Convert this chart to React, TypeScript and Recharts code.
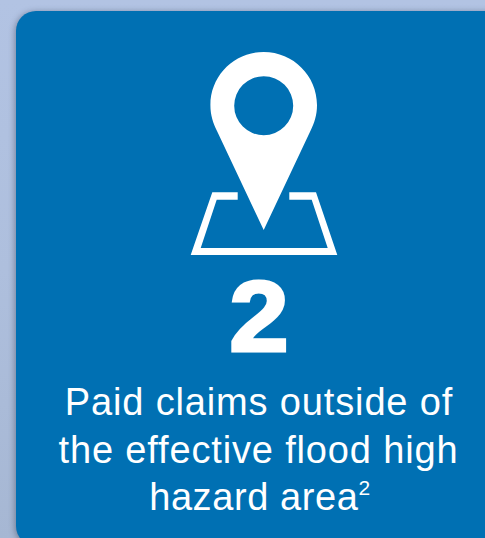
import React from "react";
import { BarChart, Bar, XAxis, YAxis, LabelList, Rectangle } from "recharts";

const categories = ["Paid claims outside of the effective flood high hazard area"];
const values = [2];
const captionLines = ["Paid claims outside of", "the effective flood high", "hazard area"];
const footnoteMark = "2";

const rows = categories.map((name, i) => ({ name, value: values[i] }));

const CARD = "#0070B3";
const FONT = "'Liberation Sans', Arial, sans-serif";

function CardShape(props: any) {
  const { x, y, width, height } = props;
  return (
    <g>
      <g style={{ filter: "drop-shadow(-1px 1px 3px rgba(40,50,70,0.45))" }}>
        <Rectangle x={x} y={y} width={width} height={height} radius={20} fill={CARD} />
      </g>
      <path
        d="M190.7 255 L212.3 192.3 L237.7 192.3 L237.7 199.7 L216.7 199.7 L200.7 248 L327.7 248 L311.7 199.7 L289.3 199.7 L289.3 192.3 L316 192.3 L337.3 255 Z"
        fill="#fff"
      />
      <path
        fillRule="evenodd"
        fill="#fff"
        d="M263.7 52 C234 52 210.4 76 210.4 105 C210.4 115 213 123 217 131 L263.7 230 L310.4 131 C314.4 123 317 115 317 105 C317 76 293.4 52 263.7 52 Z M263.7 76.2 A29.5 29.5 0 1 1 263.7 135.2 A29.5 29.5 0 1 1 263.7 76.2 Z"
      />
      <text textAnchor="middle" fontFamily={FONT} fontSize={38} letterSpacing={0.85} fill="#fff">
        <tspan x={259} y={415}>{captionLines[0]}</tspan>
        <tspan x={258.5} y={462.5}>{captionLines[1]}</tspan>
        <tspan x={260} y={510} letterSpacing={0.6}>
          {captionLines[2]}
          <tspan fontSize={21} dy={-15}>{footnoteMark}</tspan>
        </tspan>
      </text>
    </g>
  );
}

function NumberLabel(props: any) {
  return (
    <text
      transform="translate(259 350.5) scale(1.07 1)"
      textAnchor="middle"
      fontFamily={FONT}
      fontWeight={700}
      fontSize={100}
      fill="#fff"
      stroke="#fff"
      strokeWidth={3}
    >
      {props.value}
    </text>
  );
}

export default function App() {
  return (
    <div
      style={{
        position: "absolute",
        left: 0,
        top: 0,
        width: 485,
        height: 538,
        overflow: "hidden",
        background: "linear-gradient(180deg, #B2C3E3 0%, #AEBFDD 50%, #A6B7D3 100%)",
      }}
    >
      <BarChart
        width={530}
        height={560}
        data={rows}
        barCategoryGap={0}
        margin={{ top: 11, right: 0, bottom: 14, left: 16 }}
      >
        <XAxis dataKey="name" hide />
        <YAxis hide domain={[0, 2]} />
        <Bar dataKey="value" isAnimationActive={false} shape={CardShape}>
          <LabelList dataKey="value" content={NumberLabel} />
        </Bar>
      </BarChart>
    </div>
  );
}
